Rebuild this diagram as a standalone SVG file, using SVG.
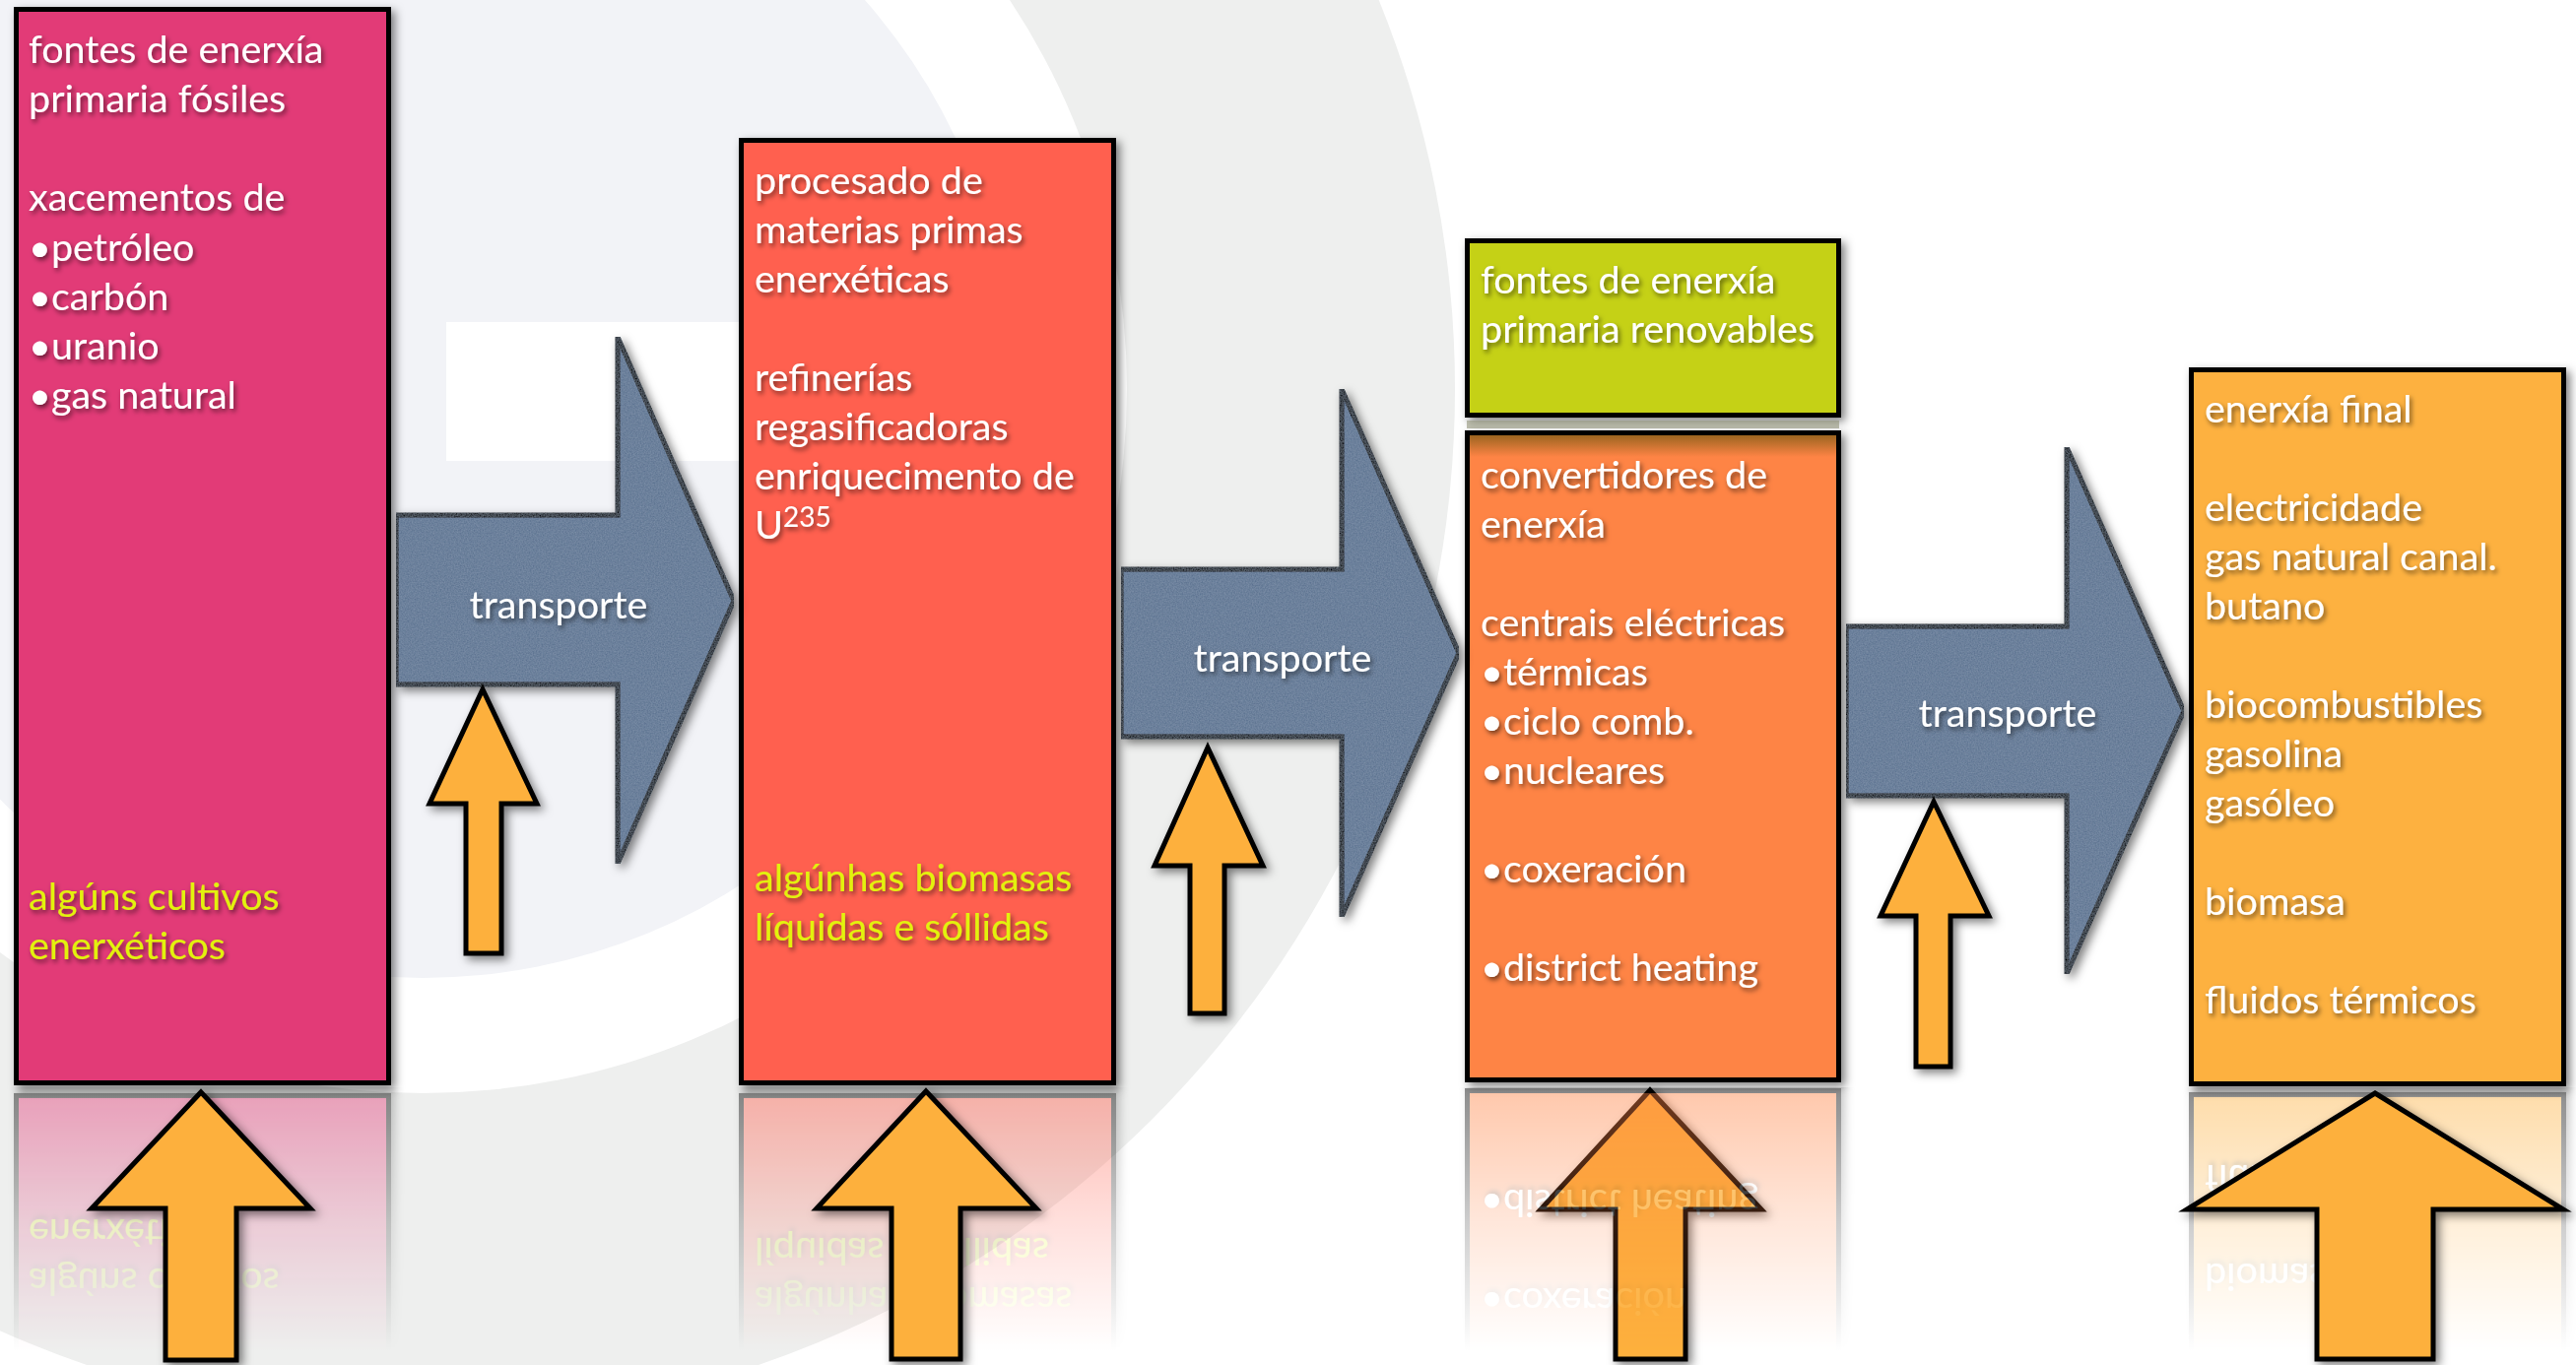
<svg xmlns="http://www.w3.org/2000/svg" xmlns:xlink="http://www.w3.org/1999/xlink" width="2615" height="1386" viewBox="0 0 2615 1386">
<defs>
<style>
.t{font-family:Lato,"Open Sans","Liberation Sans",sans-serif;font-size:39.5px;fill:#ffffff}
.y{fill:#e2f20c}
.box{stroke:#000;stroke-width:5}
.ar{fill:#fdb03e;stroke:#000;stroke-width:5;stroke-linejoin:miter}
.tr{fill:#5d7391;stroke:#000;stroke-width:5;stroke-linejoin:miter}
.lbl{text-anchor:middle}
</style>
<filter id="ts" x="-10%" y="-40%" width="130%" height="200%">
<feDropShadow dx="2" dy="3" stdDeviation="2.5" flood-color="#000" flood-opacity="0.55"/>
</filter>
<filter id="bs" x="-10%" y="-10%" width="130%" height="130%">
<feDropShadow dx="4" dy="4" stdDeviation="5" flood-color="#000" flood-opacity="0.5"/>
</filter>
<filter id="tex" x="0" y="0" width="100%" height="100%">
<feTurbulence type="fractalNoise" baseFrequency="0.7" numOctaves="2" seed="3" result="n"/>
<feColorMatrix in="n" type="matrix" values="0 0 0 0 0.45  0 0 0 0 0.55  0 0 0 0 0.68  0 0 0 0.35 -0.05" result="nc"/>
<feComposite in="nc" in2="SourceGraphic" operator="in" result="nt"/>
<feMerge><feMergeNode in="SourceGraphic"/><feMergeNode in="nt"/></feMerge>
</filter>
<linearGradient id="fadeG" x1="0" y1="1106" x2="0" y2="1372" gradientUnits="userSpaceOnUse">
<stop offset="0" stop-color="#fff" stop-opacity="0.45"/>
<stop offset="0.5" stop-color="#fff" stop-opacity="0.2"/>
<stop offset="1" stop-color="#fff" stop-opacity="0"/>
</linearGradient>
<mask id="refl" maskUnits="userSpaceOnUse" x="0" y="1104" width="2615" height="282">
<rect x="0" y="1104" width="2615" height="282" fill="url(#fadeG)"/>
</mask>
<linearGradient id="topShade" x1="0" y1="0" x2="0" y2="1">
<stop offset="0" stop-color="#4a4a00" stop-opacity="0.55"/>
<stop offset="1" stop-color="#4a4a00" stop-opacity="0"/>
</linearGradient>
</defs>

<g id="background">
<rect x="0" y="0" width="2615" height="1386" fill="#ffffff"/>
<circle cx="429" cy="395" r="1048" fill="#eeefee"/>
<circle cx="429" cy="395" r="715" fill="#ffffff"/>
<circle cx="429" cy="395" r="598" fill="#f2f3f7"/>
<rect x="453" y="327" width="300" height="141" fill="#ffffff"/>
</g>

<g id="reflections" mask="url(#refl)">
<use xlink:href="#n-fosiles" transform="matrix(1,0,0,-1,0,2212)"/>
<use xlink:href="#n-procesado" transform="matrix(1,0,0,-1,0,2212)"/>
<use xlink:href="#n-final" transform="matrix(1,0,0,-1,0,2212)"/>
</g>

<g id="n-fosiles">
<rect class="box" x="16.5" y="9.5" width="378" height="1090" fill="#e23a77" filter="url(#bs)"/>
<g class="t" filter="url(#ts)">
<text x="29" y="64">fontes de enerxía</text>
<text x="29" y="114">primaria fósiles</text>
<text x="29" y="214">xacementos de</text>
<text x="29" y="265">•petróleo</text>
<text x="29" y="315">•carbón</text>
<text x="29" y="365">•uranio</text>
<text x="29" y="415">•gas natural</text>
<text class="y" x="29" y="924">algúns cultivos</text>
<text class="y" x="29" y="974">enerxéticos</text>
</g>
</g>

<g id="n-procesado">
<rect class="box" x="752.5" y="142.5" width="378" height="957" fill="#ff604f" filter="url(#bs)"/>
<g class="t" filter="url(#ts)">
<text x="766" y="197">procesado de</text>
<text x="766" y="247">materias primas</text>
<text x="766" y="297">enerxéticas</text>
<text x="766" y="397">refinerías</text>
<text x="766" y="447">regasificadoras</text>
<text x="766" y="497">enriquecimento de</text>
<text x="766" y="547">U<tspan dy="-12" font-size="28">235</tspan></text>
<text class="y" x="766" y="905">algúnhas biomasas</text>
<text class="y" x="766" y="955">líquidas e sóllidas</text>
</g>
</g>

<g id="n-renovables">
<rect class="box" x="1489.5" y="244.5" width="377" height="177" fill="#c5d118" filter="url(#bs)"/>
<g class="t" filter="url(#ts)">
<text x="1503" y="298">fontes de enerxía</text>
<text x="1503" y="348">primaria renovables</text>
</g>
</g>
<rect x="1489" y="427" width="378" height="8" fill="#8a8c70" opacity="0.55"/>

<g id="n-convertidores">
<rect class="box" x="1489.5" y="439.5" width="377" height="657" fill="#fe8445" filter="url(#bs)"/>
<rect x="1492" y="442" width="372" height="22" fill="url(#topShade)"/>
<g class="t" filter="url(#ts)">
<text x="1503" y="496">convertidores de</text>
<text x="1503" y="546">enerxía</text>
<text x="1503" y="646">centrais eléctricas</text>
<text x="1503" y="696">•térmicas</text>
<text x="1503" y="746">•ciclo comb.</text>
<text x="1503" y="796">•nucleares</text>
<text x="1503" y="896">•coxeración</text>
<text x="1503" y="996">•district heating</text>
</g>
</g>

<g id="n-final">
<rect class="box" x="2224.5" y="375.5" width="378" height="725" fill="#fdb13f" filter="url(#bs)"/>
<g class="t" filter="url(#ts)">
<text x="2238" y="429">enerxía final</text>
<text x="2238" y="529">electricidade</text>
<text x="2238" y="579">gas natural canal.</text>
<text x="2238" y="629">butano</text>
<text x="2238" y="729">biocombustibles</text>
<text x="2238" y="779">gasolina</text>
<text x="2238" y="829">gasóleo</text>
<text x="2238" y="929">biomasa</text>
<text x="2238" y="1029">fluidos térmicos</text>
</g>
</g>

<g id="connectors">
<g id="c-transporte-1" filter="url(#bs)">
<polygon class="tr" filter="url(#tex)" points="402,523 627,523 627,342 745,610 627,877 627,695 402,695"/>
</g>
<text class="t lbl" filter="url(#ts)" x="567" y="628">transporte</text>
<g id="c-transporte-2" filter="url(#bs)">
<polygon class="tr" filter="url(#tex)" points="1138,578 1362,578 1362,395 1481,663 1362,931 1362,748 1138,748"/>
</g>
<text class="t lbl" filter="url(#ts)" x="1302" y="682">transporte</text>
<g id="c-transporte-3" filter="url(#bs)">
<polygon class="tr" filter="url(#tex)" points="1874,636 2098,636 2098,454 2217,722 2098,989 2098,808 1874,808"/>
</g>
<text class="t lbl" filter="url(#ts)" x="2038" y="738">transporte</text>

<g id="c-input-1" filter="url(#bs)"><polygon class="ar" points="490,700 545,816 509,816 509,968 473,968 473,816 436,816"/></g>
<g id="c-input-2" filter="url(#bs)"><polygon class="ar" points="1226,759 1282,879 1243,879 1243,1029 1208,1029 1208,879 1172,879"/></g>
<g id="c-input-3" filter="url(#bs)"><polygon class="ar" points="1963,814 2019,930 1980,930 1980,1083 1945,1083 1945,930 1909,930"/></g>

<g id="c-source-1" filter="url(#bs)"><polygon class="ar" points="204,1109 315,1227 240,1227 240,1381 168,1381 168,1227 93,1227"/></g>
<g id="c-source-2" filter="url(#bs)"><polygon class="ar" points="940,1108 1052,1227 975,1227 975,1380 905,1380 905,1227 829,1227"/></g>
<g id="c-source-3" filter="url(#bs)"><polygon class="ar" points="1675,1107 1788,1228 1711,1228 1711,1380 1640,1380 1640,1228 1564,1228"/></g>
<g id="c-source-4" filter="url(#bs)"><polygon class="ar" points="2411,1110 2602,1228 2470,1228 2470,1380 2352,1380 2352,1228 2220,1228"/></g>
</g>

<g id="reflection-3" mask="url(#refl)">
<use xlink:href="#n-convertidores" transform="matrix(1,0,0,-1,0,2204)"/>
</g>
</svg>
